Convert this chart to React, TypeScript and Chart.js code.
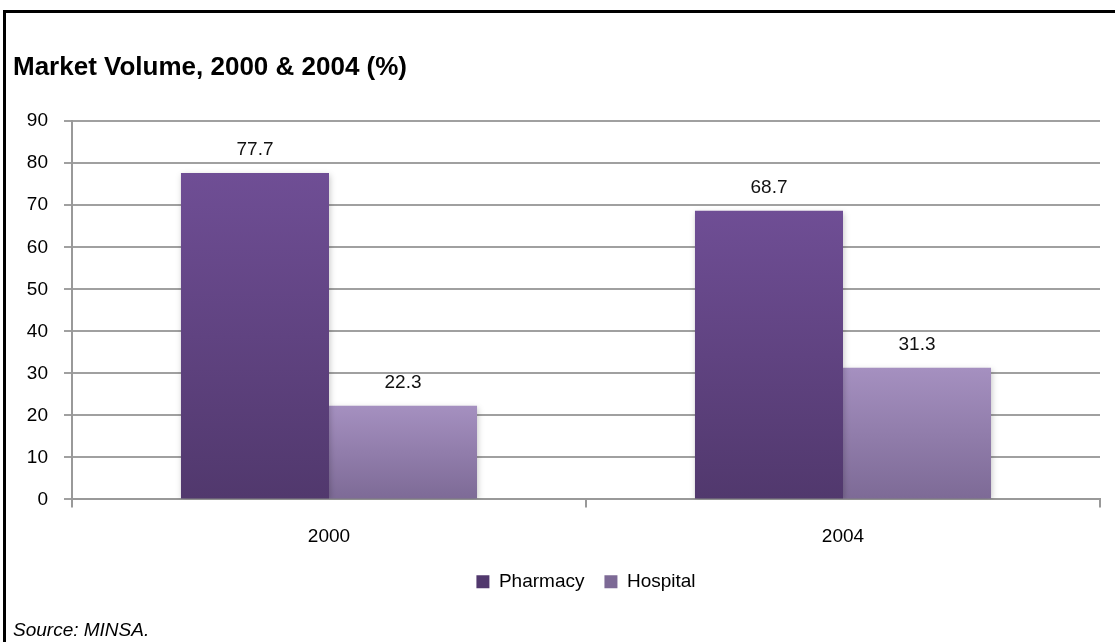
import React, { useEffect, useRef } from "react";
import { Chart, registerables } from "chart.js";

Chart.register(...registerables);

const categories = ["2000", "2004"];
const pharmacy = [77.7, 68.7];
const hospital = [22.3, 31.3];
const seriesNames = ["Pharmacy", "Hospital"];
const titleText = "Market Volume, 2000 & 2004 (%)";
const sourceText = "Source: MINSA.";

const FONT = "'Liberation Sans', Arial, sans-serif";
const LEGEND_PAD = 20;

function barGradient(c: any, top: string, bottom: string) {
  const chart = c.chart;
  const y = chart.scales && chart.scales.y;
  if (!y || c.raw == null || !chart.chartArea) return top;
  const y0 = y.getPixelForValue(c.raw);
  const y1 = y.getPixelForValue(0);
  if (!isFinite(y0) || !isFinite(y1) || y0 === y1) return top;
  const g = chart.ctx.createLinearGradient(0, y0, 0, y1);
  g.addColorStop(0, top);
  g.addColorStop(1, bottom);
  return g;
}

const valueLabels = {
  id: "valueLabels",
  beforeDatasetsDraw(chart: any) {
    const { ctx } = chart;
    ctx.save();
    ctx.shadowColor = "rgba(0,0,0,0.22)";
    ctx.shadowBlur = 6;
    ctx.shadowOffsetX = 1;
    ctx.shadowOffsetY = 2;
  },
  afterDatasetsDraw(chart: any) {
    const { ctx } = chart;
    ctx.restore();
    ctx.save();
    ctx.font = `19px ${FONT}`;
    ctx.fillStyle = "#111";
    ctx.textAlign = "center";
    ctx.textBaseline = "alphabetic";
    chart.data.datasets.forEach((ds: any, i: number) => {
      const meta = chart.getDatasetMeta(i);
      meta.data.forEach((bar: any, j: number) => {
        ctx.fillText(ds.data[j].toFixed(1), bar.x, bar.y - 18);
      });
    });
    ctx.restore();
  },
};

const centerLegend = {
  id: "centerLegend",
  afterLayout(chart: any) {
    const lg = chart.legend;
    const ca = chart.chartArea;
    if (lg && ca) {
      lg.left = ca.left;
      lg.right = ca.right;
    }
  },
};

export default function App() {
  const ref = useRef<HTMLCanvasElement | null>(null);
  useEffect(() => {
    if (!ref.current) return;
    const chart = new Chart(ref.current, {
      type: "bar",
      data: {
        labels: categories,
        datasets: [
          {
            label: seriesNames[0],
            data: pharmacy,
            backgroundColor: (c: any) => barGradient(c, "#6F4E95", "#51386D"),
            categoryPercentage: 0.576,
            barPercentage: 1,
          },
          {
            label: seriesNames[1],
            data: hospital,
            backgroundColor: (c: any) => barGradient(c, "#A590C0", "#7D6A96"),
            categoryPercentage: 0.576,
            barPercentage: 1,
          },
        ],
      },
      options: {
        animation: false,
        responsive: false,
        layout: { padding: { left: 13, right: 15, top: 0, bottom: 0 } },
        plugins: {
          title: {
            display: true,
            text: titleText,
            align: "start",
            color: "#000",
            font: { family: FONT, size: 26, weight: "bold" },
            padding: { top: 52, bottom: 38 },
          },
          subtitle: {
            display: true,
            text: sourceText,
            position: "bottom",
            align: "start",
            color: "#000",
            font: { family: FONT, size: 19, style: "italic" },
            padding: { top: 18, bottom: 0 },
          },
          legend: {
            position: "bottom",
            labels: {
              boxWidth: 13,
              boxHeight: 13,
              color: "#000",
              font: { family: FONT, size: 19 },
              padding: LEGEND_PAD,
            },
          },
          tooltip: { enabled: false },
        },
        scales: {
          x: {
            afterFit: (s: any) => {
              s.height = s.height - (LEGEND_PAD - 6);
            },
            grid: {
              display: true,
              drawOnChartArea: false,
              offset: true,
              tickLength: 8,
              color: "#999",
              lineWidth: 2,
            },
            border: { color: "#999", width: 2 },
            ticks: { color: "#000", font: { family: FONT, size: 19 }, padding: 18 },
          },
          y: {
            min: 0,
            max: 90,
            afterFit: (s: any) => {
              s.width = 59;
            },
            ticks: { stepSize: 10, color: "#000", font: { family: FONT, size: 19 }, padding: 16 },
            grid: { color: "#a0a0a0", lineWidth: 2, tickLength: 8 },
            border: { color: "#999", width: 2 },
          },
        },
      },
      plugins: [valueLabels, centerLegend],
    } as any);
    return () => chart.destroy();
  }, []);
  return (
    <div style={{ position: "fixed", left: 0, top: 0, width: 1115, height: 642, background: "#fff" }}>
      <div
        style={{
          position: "absolute",
          left: 3,
          top: 10,
          width: 1120,
          height: 640,
          borderTop: "3px solid #000",
          borderLeft: "3px solid #000",
        }}
      />
      <canvas ref={ref} width={1115} height={642} style={{ position: "absolute", left: 0, top: 0 }} />
    </div>
  );
}
